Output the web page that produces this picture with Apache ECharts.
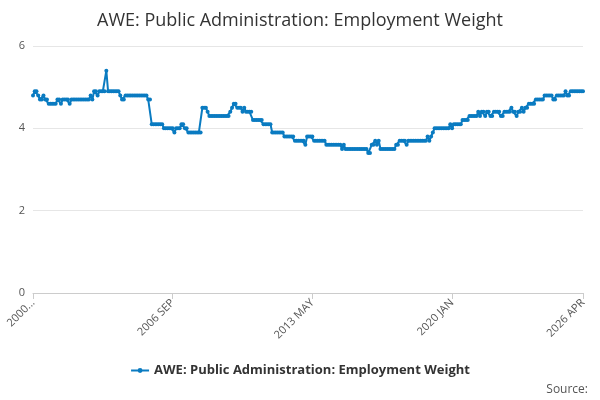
<!DOCTYPE html>
<html>
<head>
<meta charset="utf-8">
<script src="https://cdn.jsdelivr.net/npm/echarts@6/dist/echarts.min.js"></script>
<style>html,body{margin:0;padding:0;}#chart{width:600px;height:400px;}</style>
</head>
<body>
<div id="chart"></div>
<script>
const monthNames = ['JAN', 'FEB', 'MAR', 'APR', 'MAY', 'JUN', 'JUL', 'AUG', 'SEP', 'OCT', 'NOV', 'DEC'];
const yTicks = [0, 2, 4, 6];

// monthly values, one row per year, 2000 JAN .. 2026 APR
const values = [
  4.8, 4.9, 4.9, 4.8, 4.7, 4.7, 4.8, 4.7, 4.7, 4.6, 4.6, 4.6,
  4.6, 4.6, 4.7, 4.7, 4.6, 4.7, 4.7, 4.7, 4.7, 4.6, 4.7, 4.7,
  4.7, 4.7, 4.7, 4.7, 4.7, 4.7, 4.7, 4.7, 4.7, 4.8, 4.7, 4.9,
  4.9, 4.8, 4.9, 4.9, 4.9, 4.9, 5.4, 4.9, 4.9, 4.9, 4.9, 4.9,
  4.9, 4.9, 4.8, 4.7, 4.7, 4.8, 4.8, 4.8, 4.8, 4.8, 4.8, 4.8,
  4.8, 4.8, 4.8, 4.8, 4.8, 4.8, 4.7, 4.7, 4.1, 4.1, 4.1, 4.1,
  4.1, 4.1, 4.1, 4.0, 4.0, 4.0, 4.0, 4.0, 4.0, 3.9, 4.0, 4.0,
  4.0, 4.1, 4.1, 4.0, 4.0, 3.9, 3.9, 3.9, 3.9, 3.9, 3.9, 3.9,
  3.9, 4.5, 4.5, 4.5, 4.4, 4.3, 4.3, 4.3, 4.3, 4.3, 4.3, 4.3,
  4.3, 4.3, 4.3, 4.3, 4.3, 4.4, 4.5, 4.6, 4.6, 4.5, 4.5, 4.5,
  4.4, 4.5, 4.4, 4.4, 4.4, 4.4, 4.2, 4.2, 4.2, 4.2, 4.2, 4.2,
  4.1, 4.1, 4.1, 4.1, 4.1, 3.9, 3.9, 3.9, 3.9, 3.9, 3.9, 3.9,
  3.8, 3.8, 3.8, 3.8, 3.8, 3.8, 3.7, 3.7, 3.7, 3.7, 3.7, 3.7,
  3.6, 3.8, 3.8, 3.8, 3.8, 3.7, 3.7, 3.7, 3.7, 3.7, 3.7, 3.7,
  3.6, 3.6, 3.6, 3.6, 3.6, 3.6, 3.6, 3.6, 3.6, 3.5, 3.6, 3.5,
  3.5, 3.5, 3.5, 3.5, 3.5, 3.5, 3.5, 3.5, 3.5, 3.5, 3.5, 3.5,
  3.4, 3.4, 3.6, 3.6, 3.7, 3.6, 3.7, 3.5, 3.5, 3.5, 3.5, 3.5,
  3.5, 3.5, 3.5, 3.5, 3.6, 3.6, 3.7, 3.7, 3.7, 3.7, 3.6, 3.7,
  3.7, 3.7, 3.7, 3.7, 3.7, 3.7, 3.7, 3.7, 3.7, 3.7, 3.8, 3.7,
  3.8, 3.9, 4.0, 4.0, 4.0, 4.0, 4.0, 4.0, 4.0, 4.0, 4.0, 4.1,
  4.0, 4.1, 4.1, 4.1, 4.1, 4.1, 4.2, 4.2, 4.2, 4.2, 4.3, 4.3,
  4.3, 4.3, 4.3, 4.4, 4.3, 4.4, 4.4, 4.3, 4.4, 4.4, 4.3, 4.3,
  4.4, 4.4, 4.4, 4.4, 4.3, 4.3, 4.4, 4.4, 4.4, 4.4, 4.5, 4.4,
  4.4, 4.3, 4.4, 4.4, 4.5, 4.4, 4.5, 4.5, 4.6, 4.6, 4.6, 4.6,
  4.7, 4.7, 4.7, 4.7, 4.7, 4.8, 4.8, 4.8, 4.8, 4.8, 4.7, 4.7,
  4.8, 4.8, 4.8, 4.8, 4.8, 4.9, 4.8, 4.8, 4.9, 4.9, 4.9, 4.9,
  4.9, 4.9, 4.9, 4.9
];

const categories = values.map((v, i) => (2000 + Math.floor(i / 12)) + ' ' + monthNames[i % 12]);
const seriesName = 'AWE: Public Administration: Employment Weight';
const last = categories.length - 1;

const chart = echarts.init(document.getElementById('chart'));
chart.setOption({
  title: {
    text: seriesName,
    left: 'center',
    top: 7,
    textStyle: { fontFamily: 'Open Sans', fontSize: 18, fontWeight: 'normal', color: '#333' }
  },
  grid: { left: 33, right: 17, top: 46, bottom: 107 },
  legend: {
    bottom: 18,
    left: 'center',
    itemWidth: 18,
    itemHeight: 6,
    textStyle: { fontFamily: 'Open Sans', fontSize: 13, fontWeight: 'bold', color: '#333' },
    data: [seriesName]
  },
  graphic: [{
    type: 'text', right: 12, bottom: 4,
    style: { text: 'Source:', fontFamily: 'Open Sans', fontSize: 12, fill: '#555' }
  }],
  xAxis: {
    type: 'category',
    data: categories,
    boundaryGap: false,
    axisLine: { lineStyle: { color: '#ccc' } },
    axisTick: { interval: i => i % 80 === 0 || i === last, length: 6, lineStyle: { color: '#ccc' } },
    axisLabel: {
      interval: i => i % 80 === 0 || i === last,
      rotate: 45,
      color: '#555',
      fontFamily: 'Open Sans',
      fontSize: 11,
      formatter: v => v === categories[0] ? '2000...' : v
    }
  },
  yAxis: {
    type: 'value',
    min: yTicks[0],
    max: yTicks[yTicks.length - 1],
    interval: 2,
    axisLabel: { color: '#555', fontFamily: 'Open Sans', fontSize: 11 },
    splitLine: { lineStyle: { color: '#e6e6e6' } }
  },
  series: [{
    name: seriesName,
    type: 'line',
    data: values,
    symbol: 'circle',
    symbolSize: 4,
    showAllSymbol: true,
    itemStyle: { color: '#0a7bc1' },
    lineStyle: { width: 2, color: '#0a7bc1' }
  }]
});
</script>
</body>
</html>
